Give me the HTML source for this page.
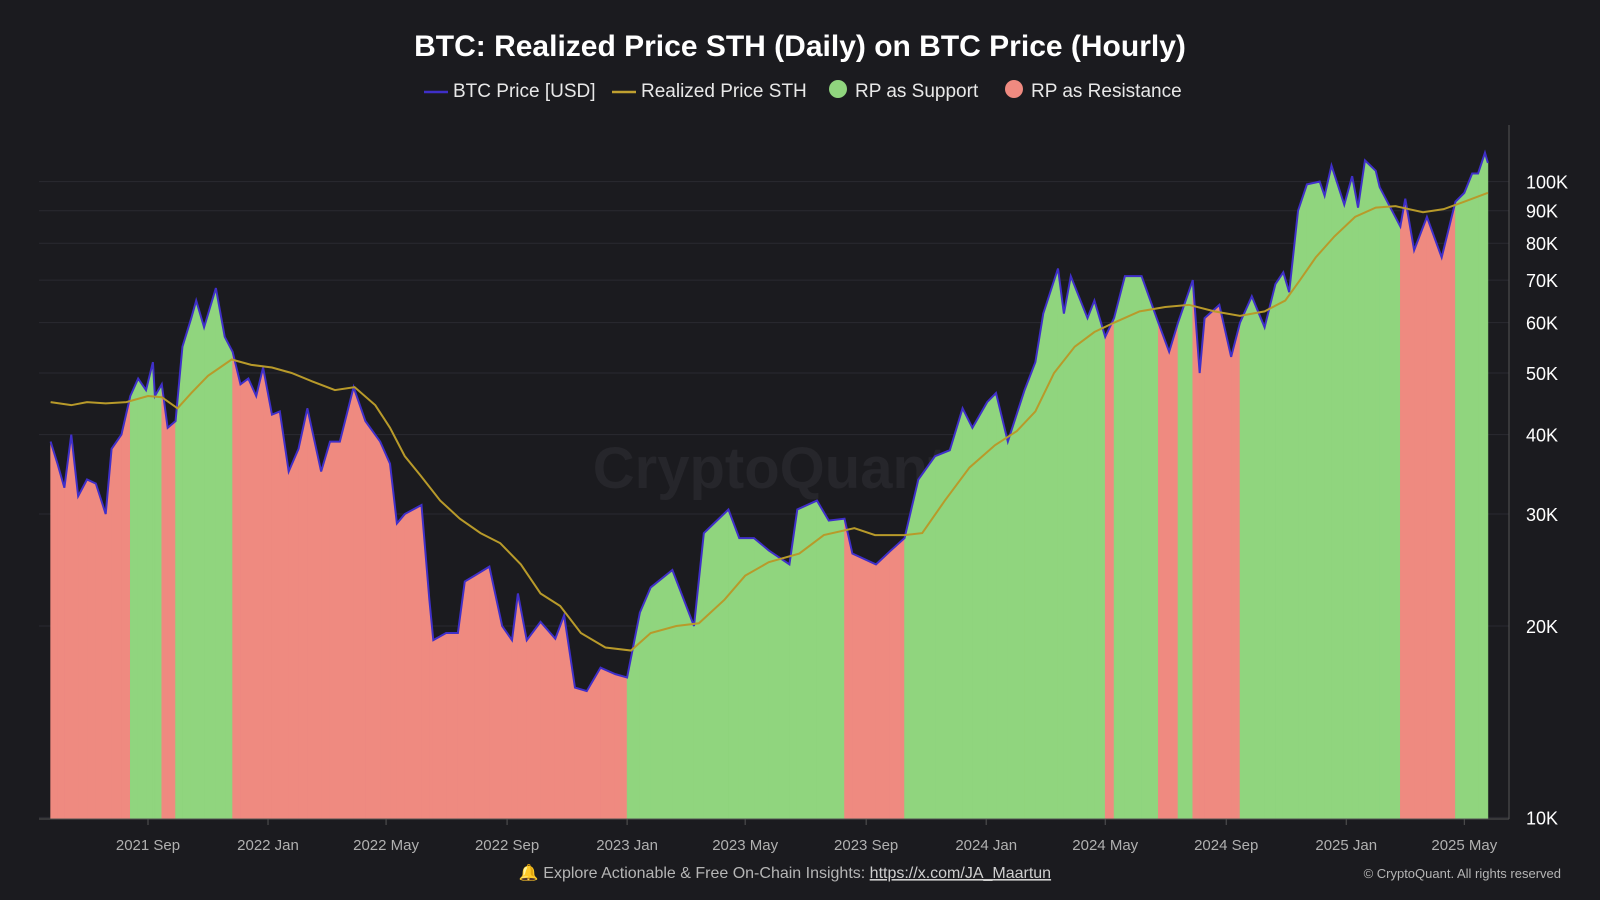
<!DOCTYPE html>
<html><head><meta charset="utf-8"><style>
html,body{margin:0;padding:0;background:#1b1b1f;width:1600px;height:900px;overflow:hidden;font-family:"Liberation Sans",sans-serif}
</style></head><body>
<svg id="c" width="1600" height="900" xmlns="http://www.w3.org/2000/svg">
<rect width="1600" height="900" fill="#1b1b1f"/>
<text x="800" y="56" text-anchor="middle" fill="#fff" font-size="30" font-weight="bold">BTC: Realized Price STH (Daily) on BTC Price (Hourly)</text>
<g font-size="19" fill="#e8e8e8">
<g><line x1="424" y1="92" x2="448" y2="92" stroke="#3f2fc8" stroke-width="2.5"/><text x="453" y="97">BTC Price [USD]</text></g>
<g><line x1="612" y1="92" x2="636" y2="92" stroke="#c0a030" stroke-width="2.5"/><text x="641" y="97">Realized Price STH</text></g>
<g><circle cx="838" cy="89" r="9" fill="#90d57e"/><text x="855" y="97">RP as Support</text></g>
<g><circle cx="1014" cy="89" r="9" fill="#ef8a80"/><text x="1031" y="97">RP as Resistance</text></g>
</g>
<text x="770" y="488" text-anchor="middle" fill="#26262b" font-size="58" font-weight="bold">CryptoQuant</text>
<g id="grid"></g><g id="fills"></g><g id="lines"></g><g id="axes"></g>
<text x="785" y="878" text-anchor="middle" fill="#b5b5b5" font-size="16">🔔 Explore Actionable &amp; Free On-Chain Insights: <tspan text-decoration="underline" fill="#cfcfcf">https://x.com/JA_Maartun</tspan></text>
<text x="1561" y="878" text-anchor="end" fill="#b5b5b5" font-size="13">© CryptoQuant. All rights reserved</text>
</svg>
<script>
const priceDates=["2021-05-25","2021-06-01","2021-06-08","2021-06-15","2021-06-22","2021-07-01","2021-07-10","2021-07-20","2021-07-26","2021-08-05","2021-08-14","2021-08-22","2021-08-30","2021-09-06","2021-09-08","2021-09-15","2021-09-21","2021-09-29","2021-10-06","2021-10-15","2021-10-20","2021-10-28","2021-11-09","2021-11-18","2021-11-26","2021-12-04","2021-12-12","2021-12-20","2021-12-27","2022-01-05","2022-01-13","2022-01-22","2022-02-01","2022-02-10","2022-02-24","2022-03-05","2022-03-15","2022-03-29","2022-04-10","2022-04-25","2022-05-05","2022-05-12","2022-05-20","2022-06-06","2022-06-14","2022-06-18","2022-07-01","2022-07-13","2022-07-20","2022-07-30","2022-08-14","2022-08-27","2022-09-06","2022-09-12","2022-09-21","2022-10-05","2022-10-20","2022-10-29","2022-11-09","2022-11-21","2022-12-05","2022-12-20","2023-01-01","2023-01-14","2023-01-25","2023-02-16","2023-03-10","2023-03-20","2023-04-14","2023-04-25","2023-05-10","2023-05-25","2023-06-15","2023-06-23","2023-07-13","2023-07-25","2023-08-10","2023-08-18","2023-09-11","2023-09-25","2023-10-10","2023-10-24","2023-11-10","2023-11-25","2023-12-08","2023-12-18","2024-01-02","2024-01-11","2024-01-23","2024-02-09","2024-02-20","2024-02-28","2024-03-14","2024-03-20","2024-03-27","2024-04-13","2024-04-20","2024-05-01","2024-05-10","2024-05-21","2024-06-07","2024-06-24","2024-07-05","2024-07-14","2024-07-29","2024-08-05","2024-08-10","2024-08-25","2024-09-06","2024-09-15","2024-09-27","2024-10-10","2024-10-21","2024-10-29","2024-11-04","2024-11-13","2024-11-22","2024-12-05","2024-12-10","2024-12-17","2024-12-30","2025-01-07","2025-01-13","2025-01-20","2025-01-31","2025-02-04","2025-02-25","2025-03-02","2025-03-11","2025-03-24","2025-04-08","2025-04-22","2025-05-01","2025-05-09","2025-05-15","2025-05-22","2025-05-25"];
const priceValues=[39,36,33,40,32,34,33.5,30,38,40,46,49,47,52,46,48,41,42,55,61,65,59,68,57,54,48,49,46,51,43,43.5,35,38,44,35,39,39,47.5,42,39,36,29,30,31,22,19,19.5,19.5,23.5,24,24.8,20,19,22.5,19,20.3,19.1,20.8,16,15.8,17.2,16.8,16.6,21,23,24.5,20,28,30.5,27.5,27.5,26.3,25,30.5,31.5,29.3,29.5,26,25,26.2,27.5,34,37,37.8,44,41,45,46.5,39,47,52,62,73,62,71,61,65,57,61,71,71,60,54,60,70,50,61,64,53,60,66,59,69,72,67,90,99,100,95,106,92,102,91,108,104,98,85,94,78,88,76,93,96,103,103,111,107];
const rpDates=["2021-05-25","2021-06-15","2021-07-01","2021-07-20","2021-08-10","2021-09-01","2021-09-15","2021-10-01","2021-10-15","2021-11-01","2021-11-25","2021-12-15","2022-01-05","2022-01-25","2022-02-15","2022-03-10","2022-03-30","2022-04-20","2022-05-05","2022-05-20","2022-06-05","2022-06-25","2022-07-15","2022-08-05","2022-08-25","2022-09-15","2022-10-05","2022-10-25","2022-11-15","2022-12-10","2023-01-05","2023-01-25","2023-02-20","2023-03-15","2023-04-10","2023-05-01","2023-05-25","2023-06-25","2023-07-20","2023-08-20","2023-09-10","2023-10-10","2023-10-28","2023-11-20","2023-12-15","2024-01-10","2024-02-01","2024-02-20","2024-03-10","2024-03-31","2024-04-20","2024-05-10","2024-06-05","2024-07-01","2024-07-25","2024-08-20","2024-09-15","2024-10-10","2024-10-31","2024-11-15","2024-12-01","2024-12-20","2025-01-10","2025-01-31","2025-02-20","2025-03-20","2025-04-10","2025-05-01","2025-05-25"];
const rpValues=[45,44.5,45,44.8,45,46,45.8,44,46.5,49.5,52.5,51.5,51,50,48.5,47,47.5,44.5,41,37,34.5,31.5,29.5,28,27,25,22.5,21.5,19.5,18.5,18.3,19.5,20,20.2,22,24,25.2,26,27.8,28.5,27.8,27.8,28,31.5,35.5,38.5,40.5,43.5,50,55,58,60,62.5,63.5,64,62.5,61.5,62.5,65,70,76,82,88,91,91.5,89.5,90.5,93,96];
const yTicks=[10,20,30,40,50,60,70,80,90,100];
const xTickLabels=["2021 Sep","2022 Jan","2022 May","2022 Sep","2023 Jan","2023 May","2023 Sep","2024 Jan","2024 May","2024 Sep","2025 Jan","2025 May"];
const xTickDates=["2021-09-01","2022-01-01","2022-05-01","2022-09-01","2023-01-01","2023-05-01","2023-09-01","2024-01-01","2024-05-01","2024-09-01","2025-01-01","2025-05-01"];

const NS="http://www.w3.org/2000/svg";
const t0=Date.parse("2021-09-01"),t1=Date.parse("2025-05-01");
const X0=148,X1=1464.3,YB=817.4,YT=181.6,BOTTOM=819;
function xs(d){return X0+(Date.parse(d)-t0)/(t1-t0)*(X1-X0);}
function ys(v){return YB-(Math.log10(v)-1)*(YB-YT);}
function mk(tag,attrs,parent){const e=document.createElementNS(NS,tag);for(const k in attrs)e.setAttribute(k,attrs[k]);parent.appendChild(e);return e;}
function rpAt(t){for(let i=0;i<rpDates.length-1;i++){const a=Date.parse(rpDates[i]),b=Date.parse(rpDates[i+1]);if(t>=a&&t<=b){return rpValues[i]+(rpValues[i+1]-rpValues[i])*(t-a)/(b-a);}}return t<Date.parse(rpDates[0])?rpValues[0]:rpValues[rpValues.length-1];}

const grid=document.getElementById('grid'),axes=document.getElementById('axes'),fills=document.getElementById('fills'),lines=document.getElementById('lines');
yTicks.forEach(v=>{
  const y=ys(v);
  const g=mk('line',{x1:39,x2:1509,y1:y,y2:y,stroke:'#2a2a30','stroke-width':1},grid);
  
  
  const t=mk('text',{x:1526,y:y+7,fill:'#fff','font-size':18},axes);
  t.textContent=v+'K';
  
  
});
xTickDates.forEach((d,i)=>{
  const x=xs(d);
  const tk=mk('line',{x1:x,x2:x,y1:BOTTOM,y2:BOTTOM+6,stroke:'#555'},axes);
  
  
  const t=mk('text',{x:x,y:850,fill:'#b0b0b0','font-size':15,'text-anchor':'middle'},axes);
  t.textContent=xTickLabels[i];
  
  
});
const xa=mk('line',{x1:39,x2:1509,y1:BOTTOM,y2:BOTTOM,stroke:'#555'},axes);


const ya=mk('line',{x1:1509,x2:1509,y1:125,y2:BOTTOM,stroke:'#555'},axes);



for(let i=0;i<priceDates.length-1;i++){
  const xa1=xs(priceDates[i]),xb=xs(priceDates[i+1]);
  const ta=Date.parse(priceDates[i]),tb=Date.parse(priceDates[i+1]);
  const pm=(priceValues[i]+priceValues[i+1])/2,rm=rpAt((ta+tb)/2);
  const col=pm>rm?'#90d57e':'#ef8a80';
  const p=mk('polygon',{points:`${xa1},${ys(priceValues[i])} ${xb},${ys(priceValues[i+1])} ${xb},${BOTTOM} ${xa1},${BOTTOM}`,fill:col,stroke:col,'stroke-width':0.6},fills);
  
  
}
const pl=mk('polyline',{points:priceDates.map((d,i)=>xs(d)+','+ys(priceValues[i])).join(' '),fill:'none',stroke:'#3f2fc8','stroke-width':2},lines);


const rl=mk('polyline',{points:rpDates.map((d,i)=>xs(d)+','+ys(rpValues[i])).join(' '),fill:'none',stroke:'#b89a2a','stroke-width':2},lines);


</script>
</body></html>
